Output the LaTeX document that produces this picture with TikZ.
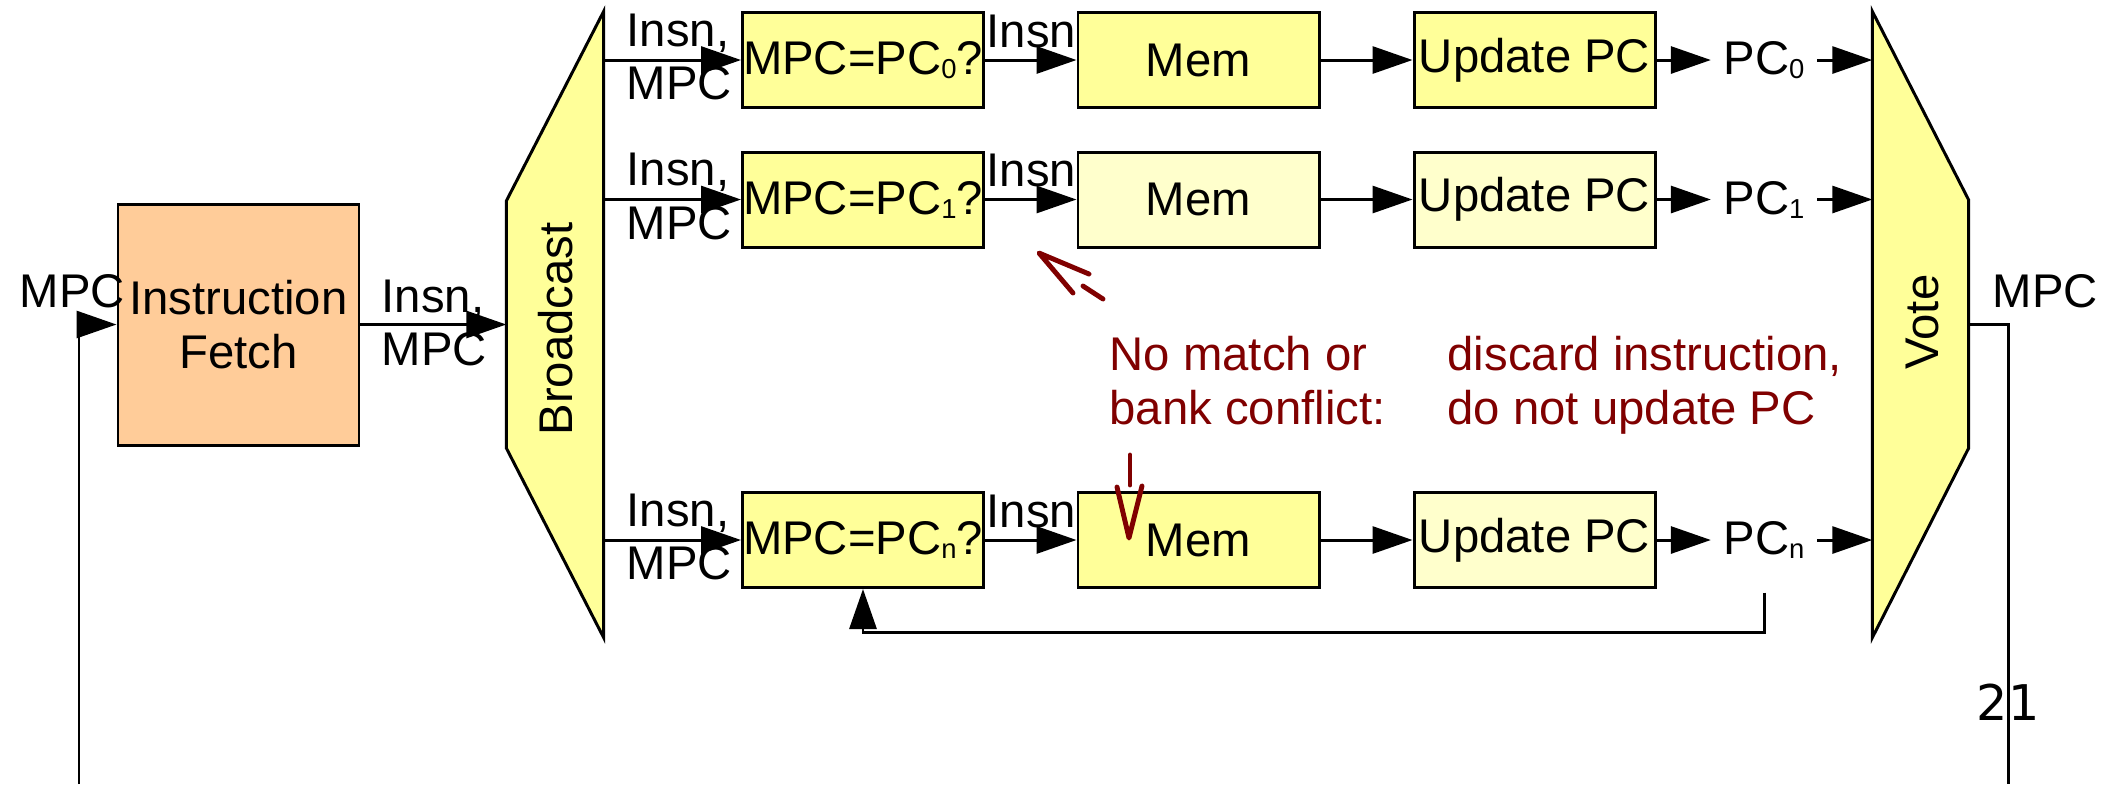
\documentclass[tikz,border=0pt]{standalone}
\usepackage{fontspec}
\setmainfont{Liberation Sans}
\newfontfamily\pagefont{DejaVu Sans}
\usetikzlibrary{arrows.meta}

\definecolor{hiyellow}{HTML}{FFFF99}
\definecolor{paleyellow}{HTML}{FFFFCC}
\definecolor{peach}{HTML}{FFCC99}
\definecolor{note}{HTML}{800000}

% small lowered index in the text font
\newcommand\lanesub[1]{\raisebox{-0.04cm}{\fontsize{7.8pt}{8pt}\selectfont #1}}

\begin{document}
\begin{tikzpicture}[x=1cm, y=-1cm,
  every node/.style={font=\fontsize{13.45pt}{15.25pt}\selectfont, inner sep=0pt},
  wire/.style={line width=0.85pt},
  arr/.style={line width=0.85pt, -{Triangle[length=0.4cm,width=0.27cm]}},
  stage/.style={draw, line width=0.85pt, minimum width=2.41cm, minimum height=0.95cm, inner sep=0pt},
  pclabel/.style={inner xsep=0.12cm, inner ysep=0pt, minimum height=1.04cm},
  lbl/.style={align=left, inner sep=0pt},
  remark/.style={text=note, align=left, inner sep=0pt},
  pointer/.style={draw=note, line width=1.4pt, line cap=round, line join=round}]

\useasboundingbox (0,0) rectangle (21.03,7.84);

% fetch stage
\node[stage, fill=peach, minimum width=2.41cm, minimum height=2.41cm, align=center]
  (ifetch) at (2.385,3.245) {Instruction\\Fetch};

% broadcast and vote frames
\node[minimum width=0.96cm, minimum height=6.25cm] (bc) at (5.55,3.245) {};
\node[minimum width=0.95cm, minimum height=6.25cm] (vt) at (19.205,3.245) {};
\draw[wire, fill=hiyellow] (bc.north east) -- (bc.west |- 0,2.01) -- (bc.west |- 0,4.48)
  -- (bc.south east) -- cycle;
\draw[wire, fill=hiyellow] (vt.north west) -- (vt.east |- 0,2.00) -- (vt.east |- 0,4.48)
  -- (vt.south west) -- cycle;
\node[rotate=90] (bctext) at (5.56,3.29) {Broadcast};
\node[rotate=90] (vttext) at (19.22,3.22) {Vote};

% lane 0
\node[stage, fill=hiyellow] (mpc0) at (8.63,0.60) {MPC=PC\lanesub{0}?};
\node[stage, fill=hiyellow] (mem0) at (11.985,0.60) {Mem};
\node[stage, fill=hiyellow] (upd0) at (15.345,0.60) {Update PC};
\node[pclabel] (pc0) at (17.64,0.60) {PC\lanesub{0}};

% lane 1
\node[stage, fill=hiyellow] (mpc1) at (8.63,1.995) {MPC=PC\lanesub{1}?};
\node[stage, fill=paleyellow] (mem1) at (11.985,1.995) {Mem};
\node[stage, fill=paleyellow] (upd1) at (15.345,1.995) {Update PC};
\node[pclabel] (pc1) at (17.64,1.995) {PC\lanesub{1}};

% lane n
\node[stage, fill=hiyellow] (mpcn) at (8.63,5.40) {MPC=PC\lanesub{n}?};
\node[stage, fill=hiyellow] (memn) at (11.985,5.40) {Mem};
\node[stage, fill=paleyellow] (updn) at (15.345,5.40) {Update PC};
\node[pclabel] (pcn) at (17.64,5.40) {PC\lanesub{n}};

% fetch to broadcast
\draw[arr] (ifetch) -- (bc.west |- ifetch);
\node[lbl, anchor=west] (ifl) at (3.81,3.23) {Insn,\\MPC};

% lane connectors
\foreach \k/\yl/\yi in {0/0.57/0.47, 1/1.965/1.865, n/5.37/5.27} {
  \draw[arr] (bc.east |- mpc\k) -- (mpc\k);
  \draw[arr] (mpc\k) -- (mem\k);
  \draw[arr] (mem\k) -- (upd\k);
  \draw[arr] (upd\k) -- (pc\k);
  \draw[arr] (pc\k) -- (vt.west |- pc\k);
  \node[lbl, anchor=west] (in\k) at (6.26,\yl) {Insn,\\MPC};
  \node[anchor=base west] (is\k) at (9.86,\yi) {Insn};
}

% lane n feedback
\draw[arr] (pcn.south) -- (pcn.south |- 0,6.32) -| (mpcn.south);

% global MPC loop
\coordinate (lfb) at (0.79,7.84);
\coordinate (rfb) at (20.08,7.84);
\draw[arr] (lfb) |- (ifetch.west);
\draw[wire] (vt.east |- ifetch) -| (rfb);
\node[anchor=base west] (mpcin) at (0.19,3.07) {MPC};
\node[anchor=base west] (mpcout) at (19.92,3.07) {MPC};

% annotation
\node[remark, anchor=north west] (why) at (11.09,3.36) {No match or\\bank conflict:};
\node[remark, anchor=north west] (what) at (14.47,3.36) {discard instruction,\\do not update PC};

\coordinate (t1) at (10.39,2.53);
\draw[pointer] (10.73,2.93) -- (t1) -- (10.89,2.74);
\draw[pointer] (10.83,2.86) -- (11.03,2.99);
\coordinate (t2) at (11.29,5.38);
\draw[pointer] (11.17,4.87) -- (t2) -- (11.42,4.86);
\draw[pointer] (11.30,4.55) -- (11.30,4.85);

% page number
\node[font=\pagefont\fontsize{14pt}{16pt}\selectfont, anchor=base] (pg) at (20.08,7.20) {21};

\end{tikzpicture}
\end{document}
